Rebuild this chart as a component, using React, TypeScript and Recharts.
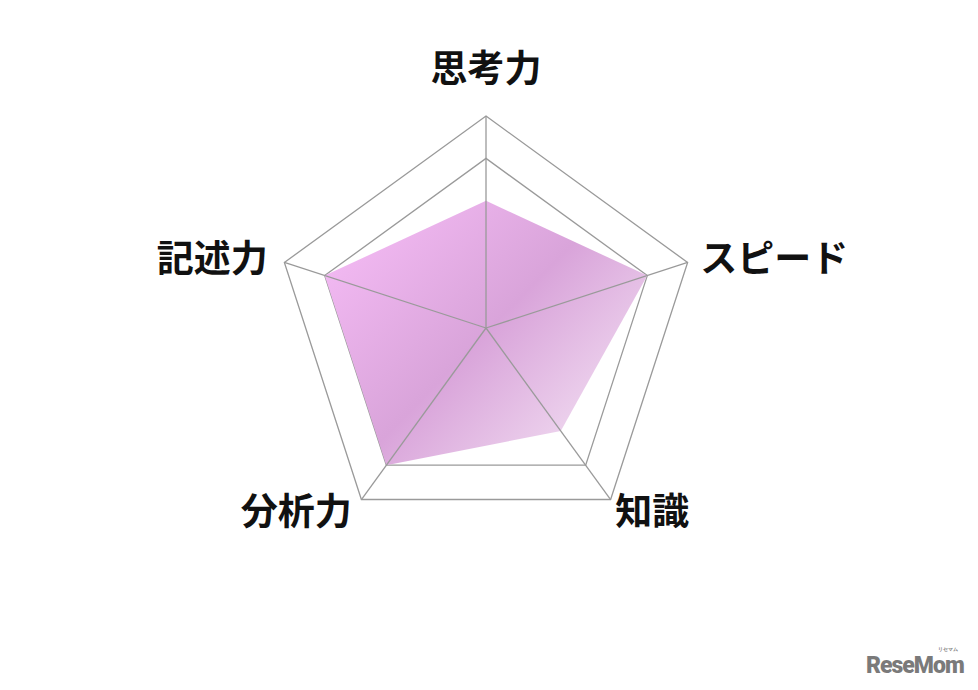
import React from "react";
import { RadarChart, Radar, PolarGrid, PolarAngleAxis, PolarRadiusAxis } from "recharts";

const categories = ["思考力", "スピード", "知識", "分析力", "記述力"];
const scores = [3, 4, 3, 4, 4];
const gridLevels = [4, 5];
const maxScore = 5;

const data = categories.map((c, i) => ({ subject: c, score: scores[i] }));

const CX = 486;
const CY = 328;
const R = 212;
const TICK_GAP = 8;
const GRID_COLOR = "#9a9a9a";

const AngleTick = (props: any) => {
  const { x, y, textAnchor, payload } = props;
  const k = R / (R + TICK_GAP);
  const vx = CX + (x - CX) * k;
  const vy = CY + (y - CY) * k;
  let dx = 0;
  let dy = 0;
  if (textAnchor === "middle") {
    dy = -42;
  } else if (y > CY) {
    dy = 3;
    dx = textAnchor === "start" ? 0 : -5;
  } else {
    dy = -4;
    dx = textAnchor === "start" ? 5 : -9;
  }
  return (
    <g>
      <line x1={CX} y1={CY} x2={vx} y2={vy} stroke={GRID_COLOR} strokeWidth={1.3} />
      <text
        x={x + dx}
        y={y + dy}
        textAnchor={textAnchor}
        dominantBaseline="central"
        fontSize={37}
        fontWeight={700}
        fontFamily="'Noto Sans CJK JP', 'Noto Sans', sans-serif"
        fill="#111"
      >
        {payload.value}
      </text>
    </g>
  );
};

export default function App() {
  return (
    <div style={{ position: "absolute", left: 0, top: 0, width: 978, height: 690, background: "#fff" }}>
      <RadarChart
        width={978}
        height={690}
        data={data}
        cx={CX}
        cy={CY}
        outerRadius={R}
        startAngle={90}
        endAngle={-270}
        margin={{ top: 0, right: 0, bottom: 0, left: 0 }}
      >
        <defs>
          <linearGradient id="fillGrad" x1="0" y1="0.1" x2="1" y2="0.9">
            <stop offset="0" stopColor="#f6bcf6" />
            <stop offset="0.5" stopColor="#d9a4da" />
            <stop offset="1" stopColor="#f6e8f6" />
          </linearGradient>
        </defs>
        <PolarGrid
          gridType="polygon"
          polarRadius={gridLevels.map((v) => (R * v) / maxScore)}
          radialLines={false}
          stroke={GRID_COLOR}
          strokeWidth={1.3}
        />
        <PolarRadiusAxis domain={[0, maxScore]} tick={false} axisLine={false} tickCount={6} />
        <Radar
          dataKey="score"
          fill="url(#fillGrad)"
          fillOpacity={1}
          stroke="none"
          isAnimationActive={false}
        />
        <PolarAngleAxis
          dataKey="subject"
          tick={<AngleTick />}
          tickSize={TICK_GAP}
          axisLine={false}
          tickLine={false}
        />
      </RadarChart>
      <div
        style={{
          position: "absolute",
          left: 866,
          top: 656,
          fontFamily: "Roboto, 'Open Sans', sans-serif",
          fontWeight: 900,
          fontSize: 23,
          color: "#7a7a7a",
          letterSpacing: -1,
          lineHeight: "20px",
        }}
      >
        ReseMom
        <span
          style={{
            fontSize: 5,
            lineHeight: "5px",
            position: "absolute",
            right: 6,
            top: -9,
            letterSpacing: 0,
          }}
        >
          リセマム
        </span>
      </div>
    </div>
  );
}
